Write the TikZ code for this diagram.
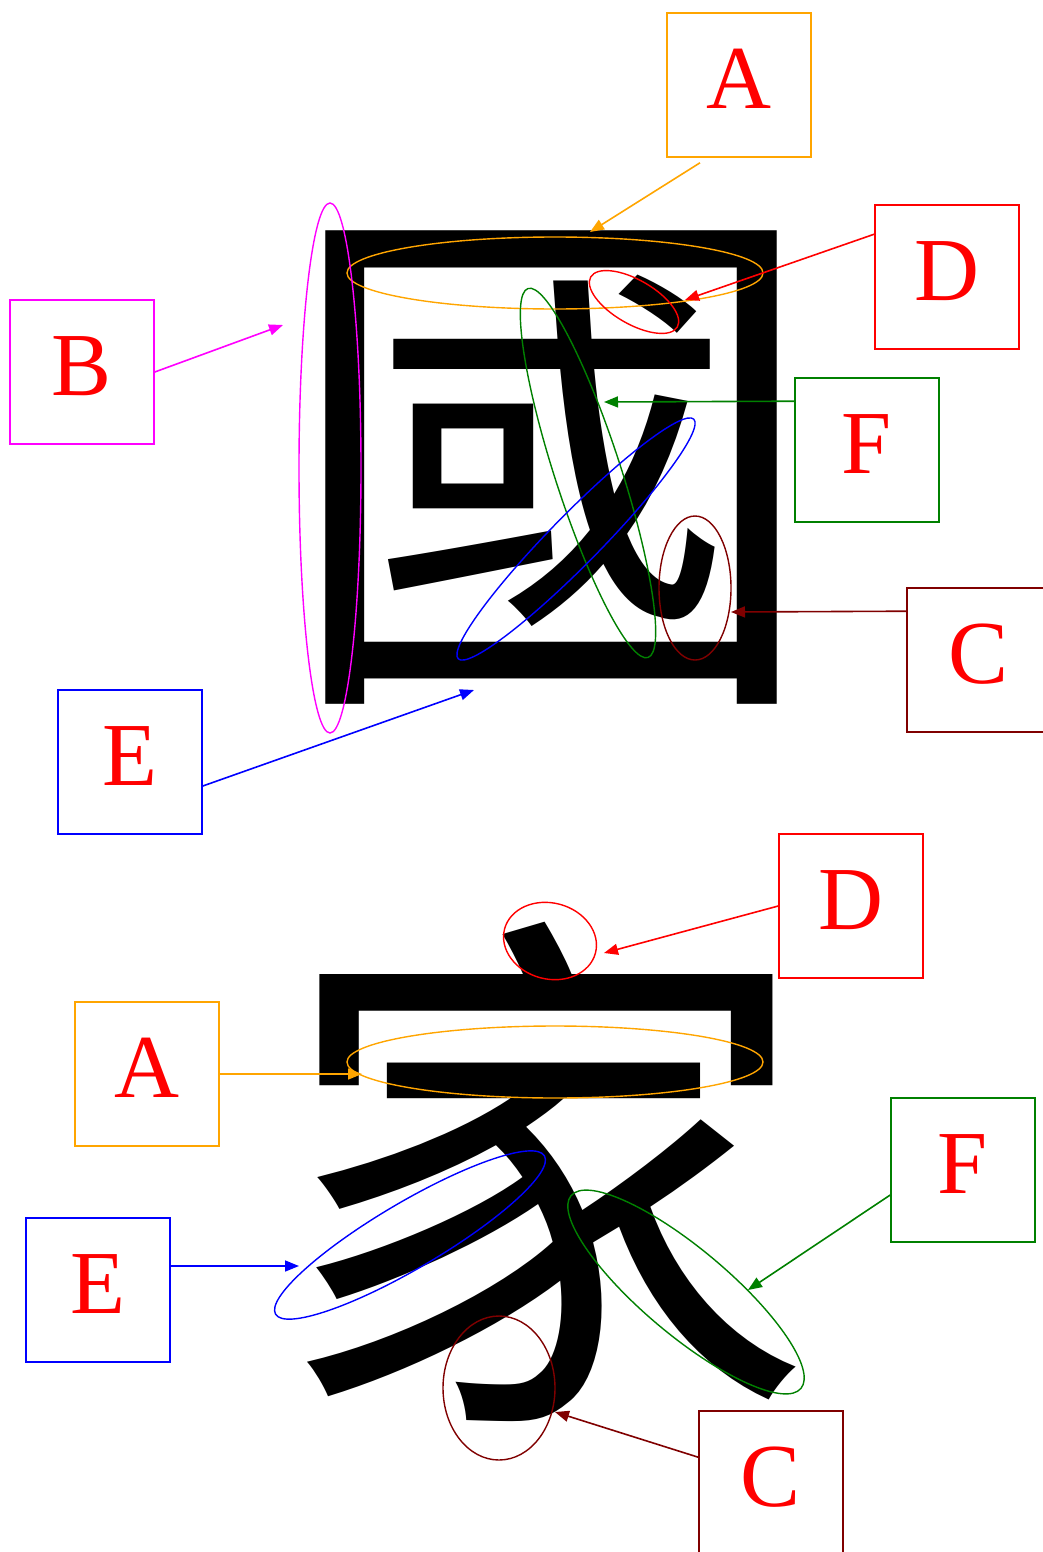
\documentclass[tikz,border=0pt]{standalone}
\usepackage{fontspec}
\setmainfont{Liberation Serif}
\newfontfamily\cjk{Noto Sans CJK TC}
\usetikzlibrary{arrows.meta}
\definecolor{corange}{RGB}{255,165,0}
\definecolor{cgreen}{RGB}{0,128,0}
\definecolor{cmaroon}{RGB}{128,0,0}
\definecolor{cmagenta}{RGB}{255,0,255}
\definecolor{cblue}{RGB}{0,0,255}
\definecolor{cred}{RGB}{255,0,0}
\tikzset{
  lbox/.style={draw, line width=1.6pt, minimum width=144pt, minimum height=144pt, inner sep=0pt,
    text=cred, text depth=12pt, font=\fontsize{90}{90}\selectfont},
  arr/.style={line width=1.6pt, -{Triangle[length=14pt,width=11pt]}},
  ell/.style={line width=1.4pt},
  hanzi/.style={inner sep=0pt, font=\cjk\fontsize{540}{540}\selectfont}
}
\begin{document}
\begin{tikzpicture}[x=1pt,y=-1pt]
\useasboundingbox (0,0) rectangle (1043,1552);
\clip (0,0) rectangle (1043,1552);
% characters
\node[hanzi] (guo) at (551,468) {國};
\node[hanzi] (jia) at (544,1172) {家};
% top ellipses
\draw[ell, corange] (555,273) ellipse [x radius=208, y radius=36];
\draw[ell, cred, rotate around={-30:(634,302)}] (634,302) ellipse [x radius=50, y radius=22];
\draw[ell, cmagenta] (330,468) ellipse [x radius=31, y radius=265];
\draw[ell, cgreen, rotate around={-72:(588,473)}] (588,473) ellipse [x radius=194, y radius=33];
\draw[ell, cblue, rotate around={45.5:(576,539)}] (576,539) ellipse [x radius=168, y radius=25];
\draw[ell, cmaroon] (695,588) ellipse [x radius=36, y radius=72];
% bottom ellipses
\draw[ell, cred, rotate around={-15:(550,941)}] (550,941) ellipse [x radius=47, y radius=38];
\draw[ell, corange] (555,1062) ellipse [x radius=208, y radius=36];
\draw[ell, cblue, rotate around={30.5:(410,1235)}] (410,1235) ellipse [x radius=156, y radius=33];
\draw[ell, cgreen, rotate around={-40:(686,1292)}] (686,1292) ellipse [x radius=150, y radius=43];
\draw[ell, cmaroon] (499,1388) ellipse [x radius=56, y radius=72];
% top boxes
\node[lbox, draw=corange] (A1) at (739,85) {A};
\node[lbox, draw=cred] (D1) at (947,277) {D};
\node[lbox, draw=cmagenta] (B1) at (82,372) {B};
\node[lbox, draw=cgreen] (F1) at (867,450) {F};
\node[lbox, draw=cmaroon] (C1) at (979,660) {C};
\node[lbox, draw=cblue] (E1) at (130,762) {E};
% bottom boxes
\node[lbox, draw=cred] (D2) at (851,906) {D};
\node[lbox, draw=corange] (A2) at (147,1074) {A};
\node[lbox, draw=cgreen] (F2) at (963,1170) {F};
\node[lbox, draw=cblue] (E2) at (98,1290) {E};
\node[lbox, draw=cmaroon] (C2) at (771,1483) {C};
% arrow targets
\coordinate (tA1) at (590,232);
\coordinate (tD1) at (685,300);
\coordinate (tB1) at (283,325);
\coordinate (tF1) at (604,402);
\coordinate (tC1) at (731,612);
\coordinate (tE1) at (474,690);
\coordinate (tD2) at (604,953);
\coordinate (tA2) at (362,1074);
\coordinate (tF2) at (748,1290);
\coordinate (tE2) at (299,1266);
\coordinate (tC2) at (555,1412);
% arrows
\draw[arr, corange] ([xshift=-39pt,yshift=-5pt]A1.south) -- (tA1);
\draw[arr, cred] ([yshift=-30pt]D1.north west) -- (tD1);
\draw[arr, cmagenta] (B1.east) -- (tB1);
\draw[arr, cgreen] ([yshift=-24pt]F1.north west) -- (tF1);
\draw[arr, cmaroon] ([yshift=-24pt]C1.north west) -- (tC1);
\draw[arr, cblue] ([yshift=-24pt]E1.east) -- (tE1);
\draw[arr, cred] (D2.west) -- (tD2);
\draw[arr, corange] (A2.east) -- (tA2);
\draw[arr, cgreen] ([yshift=-25pt]F2.west) -- (tF2);
\draw[arr, cblue] ([yshift=24pt]E2.east) -- (tE2);
\draw[arr, cmaroon] ([yshift=-47pt]C2.north west) -- (tC2);
\end{tikzpicture}
\end{document}
